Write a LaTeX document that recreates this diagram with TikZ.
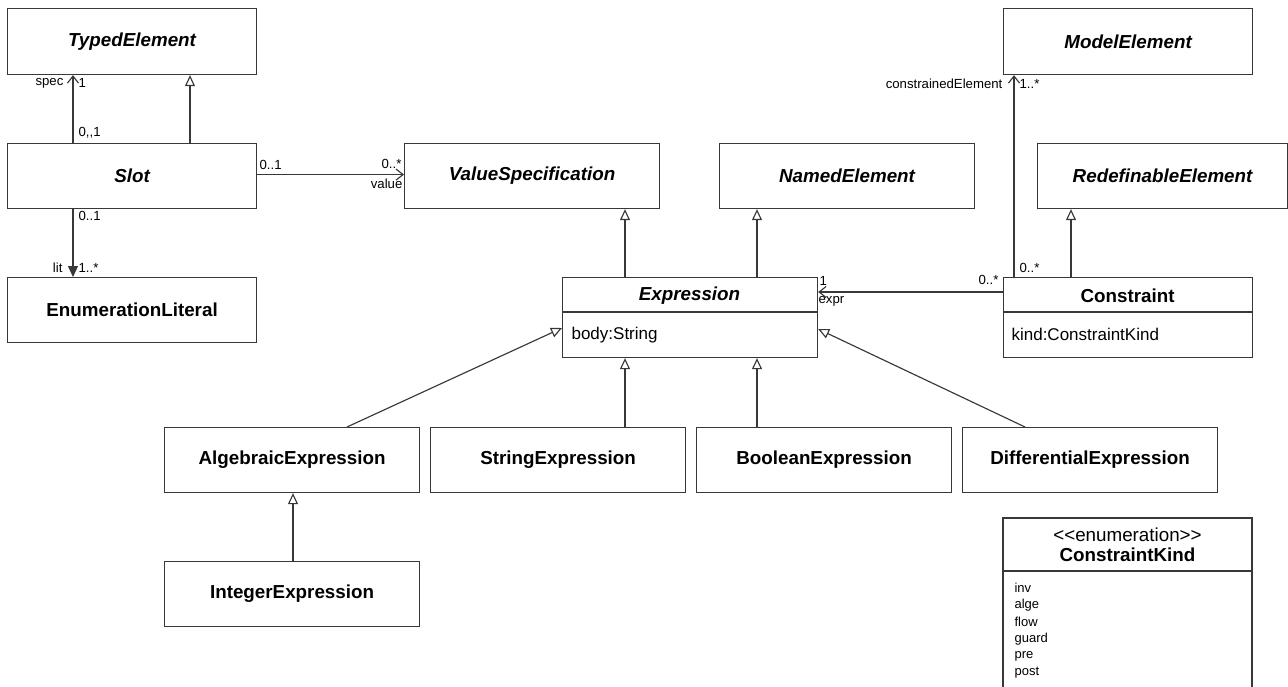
\documentclass[tikz,border=0pt]{standalone}
\usepackage{fontspec}
\setmainfont{Liberation Sans}
\usetikzlibrary{arrows.meta}
\begin{document}
\begin{tikzpicture}[x=1pt,y=-1pt,
  line width=1.15pt,
  edge/.style={draw=black!78},
  cls/.style={edge, fill=white, inner sep=0pt, anchor=north west,
    font=\fontsize{18.8}{22}\selectfont\bfseries},
  abs/.style={cls, font=\fontsize{18.8}{22}\selectfont\bfseries\itshape},
  box/.style={edge, fill=white, inner sep=0pt, anchor=north west},
  title/.style={inner sep=0pt, font=\fontsize{18.8}{22}\selectfont\bfseries},
  attr/.style={inner sep=0pt, anchor=west, font=\fontsize{17}{20}\selectfont},
  lit/.style={inner sep=0pt, anchor=west, font=\fontsize{13}{15}\selectfont},
  lbl/.style={inner sep=0pt, font=\fontsize{13.2}{15}\selectfont},
  gen/.style={edge, -{Triangle[open, length=11pt, width=10pt]}},
  nav/.style={edge, -{Straight Barb[length=7pt, width=11pt, line width=1.15pt]}},
  comp/.style={edge, -{Triangle[length=11pt, width=10pt]}}]
\useasboundingbox (0,0) rectangle (1288,687);

% ---- classes ----
\node[abs, minimum width=249pt, minimum height=66pt] (te) at (7,8) {TypedElement};
\node[abs, minimum width=249pt, minimum height=65pt] (slot) at (7,143) {Slot};
\node[cls, minimum width=249pt, minimum height=65pt] (enl) at (7,277) {EnumerationLiteral};
\node[abs, minimum width=255pt, minimum height=65pt] (vs) at (404,143) {ValueSpecification};
\node[abs, minimum width=255pt, minimum height=65pt] (ne) at (719,143) {NamedElement};
\node[abs, minimum width=250pt, minimum height=65pt] (re) at (1037,143) {RedefinableElement};
\node[abs, minimum width=249pt, minimum height=66pt] (me) at (1003,8) {ModelElement};

% Expression with one attribute
\node[box, minimum width=255pt, minimum height=80pt] (expr) at (562,277) {};
\node[title, font=\fontsize{18.8}{22}\selectfont\bfseries\itshape] (exprT) at (689.5,296) {Expression};
\draw[edge] (562,312) -- (817,312);
\node[attr] (exprA) at (571,335) {body:String};

% Constraint with one attribute
\node[box, minimum width=249pt, minimum height=80pt] (con) at (1003,277) {};
\node[title] (conT) at (1127.5,296) {Constraint};
\draw[edge] (1003,312) -- (1252,312);
\node[attr] (conA) at (1011,334) {kind:ConstraintKind};

% subclasses of Expression
\node[cls, minimum width=255pt, minimum height=65pt] (alg) at (164,427) {AlgebraicExpression};
\node[cls, minimum width=255pt, minimum height=65pt] (str) at (430,427) {StringExpression};
\node[cls, minimum width=255pt, minimum height=65pt] (bool) at (696,427) {BooleanExpression};
\node[cls, minimum width=255pt, minimum height=65pt] (diff) at (962,427) {DifferentialExpression};
\node[cls, minimum width=255pt, minimum height=65pt] (int) at (164,561) {IntegerExpression};

% enumeration ConstraintKind (runs off the lower edge)
\draw[edge] (1003,690) -- (1003,518) -- (1252,518) -- (1252,690);
\draw[edge] (1003,571) -- (1252,571);
\node[inner sep=0pt, font=\fontsize{18.8}{22}\selectfont] (ckS) at (1127.5,535) {<{}<enumeration>{}>};
\node[title] (ckT) at (1127.5,555) {ConstraintKind};
\node[lit] (k1) at (1014,588) {inv};
\node[lit] (k2) at (1014,605) {alge};
\node[lit] (k3) at (1014,622) {flow};
\node[lit] (k4) at (1014,639) {guard};
\node[lit] (k5) at (1014,656) {pre};
\node[lit] (k6) at (1014,673) {post};

% ---- connectors ----
\draw[gen] ([xshift=183pt]slot.north west) -- ([xshift=183pt]te.south west);
\draw[nav] ([xshift=66pt]slot.north west) -- ([xshift=66pt]te.south west);
\draw[comp] ([xshift=66pt]slot.south west) -- ([xshift=66pt]enl.north west);
\draw[nav] ([yshift=1.5pt]slot.east) -- ([yshift=1.5pt]vs.west);

\draw[gen] ([xshift=63pt]expr.north west) -- ([xshift=63pt]expr.north west |- vs.south);
\draw[gen] ([xshift=195pt]expr.north west) -- ([xshift=195pt]expr.north west |- ne.south);
\draw[gen] ([xshift=195pt]str.north west) -- ([xshift=195pt]str.north west |- expr.south);
\draw[gen] ([xshift=61pt]bool.north west) -- ([xshift=61pt]bool.north west |- expr.south);
\draw[gen] ([xshift=183pt]alg.north west) -- ([yshift=-51pt]expr.north west);
\draw[gen] ([xshift=63pt]diff.north west) -- ([yshift=-52pt]expr.north east);
\draw[gen] ([xshift=129pt]int.north west) -- ([xshift=129pt]alg.south west);

\draw[gen] ([xshift=68pt]con.north west) -- ([xshift=68pt]con.north west |- re.south);
\draw[nav] ([xshift=11pt]con.north west) -- ([xshift=11pt]con.north west |- me.south);
\draw[nav] ([yshift=-15pt]con.north west) -- ([yshift=-15pt]con.north west -| expr.east);

% ---- association end labels ----
\node[lbl, anchor=east] (lSpec) at (64,83) {spec};
\node[lbl, anchor=west] (lSpecM) at (78,83) {1};
\node[lbl, anchor=west] (lSlotTop) at (78,133) {0,{},1};
\node[lbl, anchor=west] (lSlotR) at (259,165) {0..1};
\node[lbl, anchor=east] (lValM) at (402,164) {0..*};
\node[lbl, anchor=east] (lVal) at (403,184) {value};
\node[lbl, anchor=west] (lSlotB) at (78,216) {0..1};
\node[lbl, anchor=east] (lLit) at (63,268) {lit};
\node[lbl, anchor=west] (lLitM) at (78,268) {1..*};
\node[lbl, anchor=east] (lCE) at (1003,84) {constrainedElement};
\node[lbl, anchor=west] (lCEM) at (1019,84) {1..*};
\node[lbl, anchor=west] (lConTop) at (1019,268) {0..*};
\node[lbl, anchor=east] (lConL) at (999,280) {0..*};
\node[lbl, anchor=west] (lExprM) at (819,281) {1};
\node[lbl, anchor=west] (lExpr) at (818,301) {expr};
\end{tikzpicture}
\end{document}
